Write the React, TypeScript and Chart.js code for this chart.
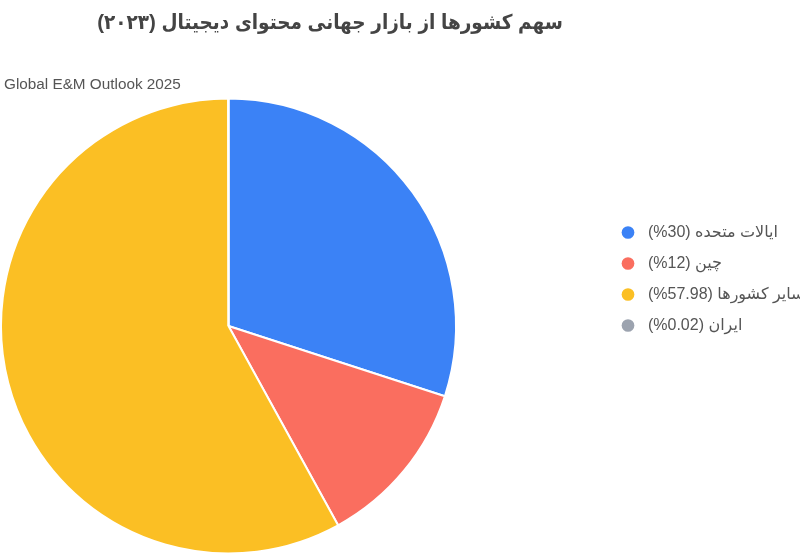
import React, { useEffect, useRef } from "react";
import { Chart, registerables } from "chart.js";

Chart.register(...registerables);

const TITLE = "سهم کشورها از بازار جهانی محتوای دیجیتال (۲۰۲۳)";
const SUBTITLE = "Global E&M Outlook 2025";
const CATEGORIES = ["ایالات متحده", "چین", "سایر کشورها", "ایران"];
const VALUES = [30, 12, 57.98, 0.02];
const COLORS = ["#3B82F6", "#FA6E5F", "#FBBF24", "#9CA3AF"];

const FONT = "'Liberation Sans', Arial, 'DejaVu Sans', sans-serif";
const TITLE_FONT = "'Liberation Sans', Arial, 'DejaVu Sans Condensed', 'DejaVu Sans', sans-serif";

// Positions of the text boxes around the pie (layout only, not marks).
const LEGEND_LEFT = 605.5;
const LEGEND_TOP = 209.5;
const SUBTITLE_LEFT = 4;
const TITLE_CENTER = 330;

const placeBoxes = {
  id: "placeBoxes",
  afterLayout(chart: any) {
    const lg = chart.legend;
    if (lg) {
      const w = lg.right - lg.left;
      lg.left = LEGEND_LEFT;
      lg.right = LEGEND_LEFT + w;
      lg.top = LEGEND_TOP;
      lg.bottom = chart.height;
      lg.height = lg.bottom - lg.top;
    }
    const tb = chart.titleBlock;
    if (tb) {
      const w = tb.right - tb.left;
      tb.left = TITLE_CENTER - w / 2;
      tb.right = TITLE_CENTER + w / 2;
    }
    const sub = chart.boxes.find(
      (b: any) => b !== chart.titleBlock && b.options && b.options.text === SUBTITLE
    );
    if (sub) {
      const w = sub.right - sub.left;
      sub.left = SUBTITLE_LEFT;
      sub.right = SUBTITLE_LEFT + w;
    }
  },
};

export default function App() {
  const ref = useRef<HTMLCanvasElement | null>(null);

  useEffect(() => {
    document.body.style.margin = "0";
    const canvas = ref.current;
    if (!canvas) return;
    const chart = new Chart(canvas, {
      type: "pie",
      data: {
        labels: CATEGORIES,
        datasets: [
          {
            data: VALUES,
            backgroundColor: COLORS,
            borderColor: "#ffffff",
            borderWidth: 2,
          },
        ],
      },
      plugins: [placeBoxes],
      options: {
        responsive: false,
        animation: false,
        events: [],
        layout: { padding: { left: -3, right: 143, top: 0, bottom: 1 } },
        plugins: {
          title: {
            display: true,
            text: TITLE,
            color: "#444444",
            font: { family: TITLE_FONT, size: 20.5, weight: "bold" },
            padding: { top: 10.8, bottom: 7.6 },
            fullSize: true,
          },
          subtitle: {
            display: true,
            text: SUBTITLE,
            align: "start",
            color: "#555555",
            font: { family: FONT, size: 15.3, weight: "normal" },
            padding: { top: 32.6, bottom: 2 },
          },
          legend: {
            display: true,
            position: "right",
            align: "start",
            maxWidth: 200,
            textDirection: "rtl",
            labels: {
              usePointStyle: true,
              pointStyle: "circle",
              boxHeight: 9,
              boxWidth: 15,
              padding: 15,
              color: "#555555",
              font: { family: FONT, size: 16 },
              generateLabels: (c: any) => {
                const base = (Chart as any).overrides.doughnut.plugins.legend.labels.generateLabels(c);
                return base.map((it: any, i: number) => ({
                  ...it,
                  text: `${CATEGORIES[i]} (${VALUES[i]}%) `,
                  lineWidth: 0,
                  strokeStyle: "rgba(0,0,0,0)",
                }));
              },
            },
          },
          tooltip: { enabled: false },
        },
      },
    });
    return () => chart.destroy();
  }, []);

  return (
    <div style={{ position: "absolute", left: 0, top: 0, width: 800, height: 557, overflow: "hidden" }}>
      <canvas ref={ref} width={800} height={557} style={{ display: "block", direction: "rtl" }} />
    </div>
  );
}
